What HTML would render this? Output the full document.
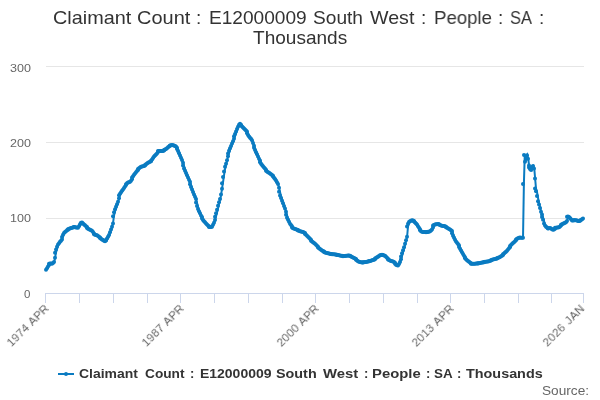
<!DOCTYPE html>
<html lang="en"><head><meta charset="utf-8"><title>Claimant Count : E12000009 South West : People : SA : Thousands</title>
<style>html,body{margin:0;padding:0;background:#fff}body{width:600px;height:400px;position:relative;overflow:hidden;font-family:"Liberation Sans", sans-serif}svg{position:absolute;left:0;top:0}div,span{will-change:transform}.ln{position:absolute;left:0;width:600px;height:0}.w{position:absolute;top:0;white-space:nowrap;transform-origin:0 0}.w1{font-size:19px;line-height:25px;height:25px;color:#333}.w2{font-size:11.5px;line-height:15px;height:15px;color:#666}.w3{font-size:13px;line-height:17px;height:17px;color:#333;font-weight:bold}.w4{font-size:12.6px;line-height:16px;height:16px;color:#666}</style></head><body>
<svg width="600" height="400" viewBox="0 0 600 400">
<rect width="600" height="400" fill="#fff"/>
<path d="M46 66.5H584M46 142.5H584M46 218.5H584" stroke="#e6e6e6" stroke-width="1" fill="none"/>
<path d="M45 293.5H584M45.5 293V303M79.5 293V303M113.5 293V303M147.5 293V303M180.5 293V303M214.5 293V303M248.5 293V303M282.5 293V303M315.5 293V303M349.5 293V303M383.5 293V303M417.5 293V303M450.5 293V303M484.5 293V303M518.5 293V303M551.5 293V303M583.5 293V303" stroke="#ccd6eb" stroke-width="1" fill="none"/>
<path d="M46.43 269.75 L47.30 268.16 L48.16 266.43 L49.03 264.89 L49.89 263.77 L50.76 263.40 L51.62 263.57 L52.49 263.75 L53.35 263.04 L54.22 261.96 L55.08 257.63 L55.95 252.82 L56.81 249.51 L57.68 246.76 L58.54 244.44 L59.41 243.14 L60.27 241.84 L61.14 240.68 L62.00 239.53 L62.87 236.97 L63.73 234.67 L64.60 232.90 L65.46 232.04 L66.33 231.17 L67.19 230.31 L68.06 229.72 L68.92 229.29 L69.79 228.86 L70.65 228.44 L71.52 228.09 L72.38 227.75 L73.25 227.40 L74.11 227.06 L74.98 227.12 L75.84 227.27 L76.71 227.41 L77.57 227.55 L78.44 227.70 L79.30 226.37 L80.17 224.21 L81.03 223.38 L81.90 222.68 L82.76 222.49 L83.63 223.44 L84.49 224.39 L85.36 225.34 L86.22 226.22 L87.09 227.09 L87.95 227.95 L88.82 228.69 L89.68 229.21 L90.55 229.73 L91.41 230.25 L92.27 230.79 L93.14 232.11 L94.00 233.44 L94.87 234.33 L95.73 234.63 L96.60 234.93 L97.46 235.24 L98.33 235.94 L99.19 236.66 L100.06 237.38 L100.92 238.10 L101.79 238.82 L102.65 239.45 L103.52 240.04 L104.38 240.63 L105.25 241.22 L106.11 240.62 L106.98 239.96 L107.84 238.56 L108.71 236.83 L109.57 235.02 L110.44 232.30 L111.30 229.59 L112.17 226.63 L113.03 223.42 L113.90 216.18 L114.76 212.33 L115.63 209.37 L116.49 206.85 L117.36 204.32 L118.22 201.73 L119.09 198.20 L119.95 195.26 L120.82 193.72 L121.68 192.21 L122.55 190.87 L123.41 189.52 L124.28 188.06 L125.14 186.52 L126.01 184.99 L126.87 184.13 L127.74 183.26 L128.60 182.57 L129.47 182.14 L130.33 181.71 L131.20 180.70 L132.06 179.16 L132.93 177.62 L133.79 176.15 L134.66 174.81 L135.52 173.47 L136.39 172.14 L137.25 171.00 L138.12 170.04 L138.98 169.08 L139.85 168.20 L140.71 167.44 L141.58 166.73 L142.44 166.51 L143.31 166.30 L144.17 166.08 L145.04 165.57 L145.90 164.88 L146.77 164.19 L147.63 163.49 L148.50 162.85 L149.36 162.33 L150.23 161.81 L151.09 161.30 L151.96 160.78 L152.82 159.38 L153.69 157.94 L154.55 156.62 L155.42 155.54 L156.28 154.46 L157.15 153.38 L158.01 152.11 L158.88 151.00 L159.74 151.00 L160.61 151.00 L161.47 151.00 L162.34 151.00 L163.20 151.00 L164.07 150.51 L164.93 149.99 L165.80 149.47 L166.66 148.95 L167.53 148.22 L168.39 147.36 L169.26 146.49 L170.12 145.72 L170.99 145.50 L171.85 145.29 L172.72 145.07 L173.58 145.23 L174.45 145.58 L175.31 145.92 L176.18 146.46 L177.04 147.73 L177.91 148.99 L178.77 150.89 L179.64 153.19 L180.50 155.50 L181.36 157.81 L182.23 160.11 L183.09 162.65 L183.96 165.53 L184.82 168.42 L185.69 170.78 L186.55 173.02 L187.42 175.25 L188.28 177.44 L189.15 179.63 L190.01 181.82 L190.88 184.26 L191.74 186.88 L192.61 189.51 L193.47 192.02 L194.34 194.39 L195.20 196.75 L196.07 199.12 L196.93 202.43 L197.80 206.09 L198.66 209.03 L199.53 211.20 L200.39 213.36 L201.26 215.52 L202.12 217.03 L202.99 218.54 L203.85 220.06 L204.72 221.31 L205.58 222.35 L206.45 223.39 L207.31 224.43 L208.18 225.40 L209.04 226.15 L209.91 226.90 L210.77 227.10 L211.64 226.92 L212.50 226.74 L213.37 224.72 L214.23 222.71 L215.10 220.11 L215.96 216.65 L216.83 213.19 L217.69 209.73 L218.56 205.86 L219.42 202.15 L220.29 199.12 L221.15 194.62 L222.02 188.64 L222.88 183.23 L223.75 177.06 L224.61 171.38 L225.48 166.70 L226.34 163.68 L227.21 160.19 L228.07 156.30 L228.94 153.44 L229.80 150.84 L230.67 148.29 L231.53 145.93 L232.40 143.57 L233.26 141.19 L234.13 138.76 L234.99 136.34 L235.86 133.92 L236.72 131.50 L237.59 129.10 L238.45 126.82 L239.32 124.84 L240.18 123.78 L241.05 124.65 L241.91 125.51 L242.78 126.44 L243.64 127.41 L244.51 128.38 L245.37 129.44 L246.24 130.52 L247.10 131.60 L247.97 133.33 L248.83 135.06 L249.70 136.39 L250.56 137.69 L251.43 138.73 L252.29 140.14 L253.16 143.02 L254.02 145.68 L254.89 147.84 L255.75 150.00 L256.62 152.16 L257.48 154.33 L258.35 156.49 L259.21 158.65 L260.08 160.61 L260.94 162.22 L261.81 163.84 L262.67 165.11 L263.54 166.29 L264.40 167.46 L265.27 168.58 L266.13 169.69 L267.00 170.79 L267.86 171.49 L268.73 172.18 L269.59 172.87 L270.45 173.56 L271.32 174.26 L272.18 174.95 L273.05 175.64 L273.91 176.44 L274.78 177.71 L275.64 178.98 L276.51 180.52 L277.37 182.25 L278.24 183.98 L279.10 187.66 L279.97 191.85 L280.83 195.50 L281.70 198.10 L282.56 200.69 L283.43 203.29 L284.29 205.88 L285.16 208.59 L286.02 211.80 L286.89 214.82 L287.75 217.63 L288.62 219.66 L289.48 221.70 L290.35 223.65 L291.21 224.95 L292.08 226.24 L292.94 227.54 L293.81 228.22 L294.67 228.57 L295.54 228.92 L296.40 229.26 L297.27 229.63 L298.13 230.04 L299.00 230.46 L299.86 230.87 L300.73 231.29 L301.59 231.57 L302.46 231.85 L303.32 232.12 L304.19 232.40 L305.05 233.05 L305.92 233.92 L306.78 234.78 L307.65 235.68 L308.51 236.72 L309.38 237.75 L310.24 238.79 L311.11 239.83 L311.97 240.64 L312.84 241.40 L313.70 242.16 L314.57 242.92 L315.43 243.78 L316.30 244.75 L317.16 245.72 L318.03 246.69 L318.89 247.61 L319.76 248.31 L320.62 249.00 L321.49 249.69 L322.35 250.38 L323.22 250.93 L324.08 251.45 L324.95 251.97 L325.81 252.40 L326.68 252.67 L327.54 252.94 L328.41 253.21 L329.27 253.49 L330.14 253.76 L331.00 253.98 L331.87 254.08 L332.73 254.18 L333.60 254.28 L334.46 254.37 L335.33 254.47 L336.19 254.59 L337.06 254.76 L337.92 254.93 L338.79 255.11 L339.65 255.28 L340.52 255.45 L341.38 255.63 L342.25 255.80 L343.11 255.97 L343.98 256.15 L344.84 256.12 L345.71 255.99 L346.57 255.87 L347.44 255.74 L348.30 255.62 L349.17 255.50 L350.03 255.70 L350.90 256.12 L351.76 256.54 L352.63 256.95 L353.49 257.39 L354.36 257.89 L355.22 258.40 L356.09 258.90 L356.95 259.66 L357.82 260.48 L358.68 261.30 L359.55 261.75 L360.41 261.99 L361.27 262.23 L362.14 262.47 L363.00 262.40 L363.87 262.28 L364.73 262.17 L365.60 262.05 L366.46 261.94 L367.33 261.76 L368.19 261.55 L369.06 261.35 L369.92 261.14 L370.79 260.91 L371.65 260.63 L372.52 260.35 L373.38 260.08 L374.25 259.80 L375.11 259.20 L375.98 258.59 L376.84 257.98 L377.71 257.33 L378.57 256.64 L379.44 255.95 L380.30 255.29 L381.17 255.08 L382.03 254.88 L382.90 254.74 L383.76 255.07 L384.63 255.41 L385.49 255.75 L386.36 256.74 L387.22 257.73 L388.09 258.73 L388.95 259.47 L389.82 259.99 L390.68 260.51 L391.55 261.02 L392.41 261.32 L393.28 261.62 L394.14 261.93 L395.01 262.66 L395.87 263.70 L396.74 264.74 L397.60 265.35 L398.47 265.43 L399.33 263.96 L400.20 261.91 L401.06 259.31 L401.93 256.38 L402.79 253.35 L403.66 250.32 L404.52 247.16 L405.39 243.70 L406.25 240.30 L407.12 236.68 L407.98 226.59 L408.85 223.80 L409.71 221.89 L410.58 221.21 L411.44 220.67 L412.31 220.24 L413.17 220.60 L414.04 220.96 L414.90 221.43 L415.77 222.45 L416.63 223.46 L417.50 224.62 L418.36 226.24 L419.23 227.86 L420.09 229.21 L420.96 230.23 L421.82 231.25 L422.69 231.80 L423.55 231.91 L424.42 232.01 L425.28 232.11 L426.15 232.18 L427.01 232.08 L427.88 231.97 L428.74 231.87 L429.61 231.77 L430.47 231.13 L431.34 230.38 L432.20 229.38 L433.07 227.57 L433.93 225.59 L434.80 224.92 L435.66 224.58 L436.53 224.25 L437.39 224.15 L438.26 224.05 L439.12 224.19 L439.99 224.62 L440.85 225.05 L441.72 225.48 L442.58 225.70 L443.45 225.91 L444.31 226.11 L445.18 226.32 L446.04 226.74 L446.91 227.28 L447.77 227.82 L448.64 228.36 L449.50 228.94 L450.36 229.59 L451.23 230.23 L452.09 230.88 L452.96 233.13 L453.82 235.67 L454.69 237.69 L455.55 239.71 L456.42 241.38 L457.28 242.68 L458.15 243.97 L459.01 245.28 L459.88 247.01 L460.74 248.74 L461.61 250.47 L462.47 252.20 L463.34 253.93 L464.20 255.66 L465.07 257.32 L465.93 258.26 L466.80 259.19 L467.66 260.13 L468.53 261.06 L469.39 261.82 L470.26 262.51 L471.12 263.20 L471.99 263.70 L472.85 263.70 L473.72 263.70 L474.58 263.70 L475.45 263.70 L476.31 263.62 L477.18 263.53 L478.04 263.45 L478.91 263.36 L479.77 263.27 L480.64 263.08 L481.50 262.85 L482.37 262.62 L483.23 262.39 L484.10 262.16 L484.96 261.97 L485.83 261.83 L486.69 261.68 L487.56 261.54 L488.42 261.40 L489.29 261.18 L490.15 260.84 L491.02 260.49 L491.88 260.15 L492.75 259.80 L493.61 259.56 L494.48 259.32 L495.34 259.07 L496.21 258.83 L497.07 258.52 L497.94 258.18 L498.80 257.83 L499.67 257.48 L500.53 257.02 L501.40 256.33 L502.26 255.64 L503.13 254.95 L503.99 254.26 L504.86 253.39 L505.72 252.53 L506.59 251.66 L507.45 250.65 L508.32 249.49 L509.18 248.34 L510.05 247.19 L510.91 246.03 L511.78 244.95 L512.64 244.01 L513.51 243.08 L514.37 242.14 L515.24 241.24 L516.10 240.35 L516.97 239.45 L517.83 238.71 L518.70 238.23 L519.56 237.75 L520.43 237.55 L521.29 237.65 L522.16 237.76 L523.02 237.86 L523.89 184.00 L524.75 155.00 L525.62 161.80 L526.48 157.60 L527.35 155.30 L528.21 158.80 L529.08 165.50 L529.94 167.50 L530.81 169.00 L531.67 170.00 L532.54 167.00 L533.40 166.00 L534.27 168.40 L535.13 178.50 L536.00 188.50 L536.86 191.25 L537.73 195.97 L538.59 201.19 L539.45 204.48 L540.32 207.96 L541.18 211.73 L542.05 214.47 L542.91 216.98 L543.78 219.77 L544.64 223.60 L545.51 225.51 L546.37 226.81 L547.24 227.55 L548.10 228.20 L548.97 228.41 L549.83 228.23 L550.70 228.06 L551.56 228.45 L552.43 229.14 L553.29 229.84 L554.16 229.45 L555.02 228.69 L555.89 227.86 L556.75 227.69 L557.62 227.62 L558.48 227.54 L559.35 227.26 L560.21 226.53 L561.08 225.43 L561.94 224.67 L562.81 224.22 L563.67 223.77 L564.54 223.30 L565.40 222.81 L566.27 222.33 L567.13 220.98 L568.00 216.76 L568.86 216.50 L569.73 216.90 L570.59 217.89 L571.46 219.20 L572.32 220.50 L573.19 220.40 L574.05 220.31 L574.92 220.21 L575.78 220.28 L576.65 220.36 L577.51 220.61 L578.38 220.95 L579.24 221.12 L580.11 220.81 L580.97 220.51 L581.84 219.89 L582.70 219.23 L583.57 218.50" stroke="#0a7bc1" stroke-width="2" fill="none" stroke-linejoin="miter" stroke-linecap="butt"/>
<g fill="#0a7bc1"><circle cx="46" cy="269.75" r="2"/><circle cx="47" cy="268.16" r="2"/><circle cx="48" cy="266.43" r="2"/><circle cx="49" cy="264.89" r="2"/><circle cx="49" cy="263.77" r="2"/><circle cx="50" cy="263.40" r="2"/><circle cx="51" cy="263.57" r="2"/><circle cx="52" cy="263.75" r="2"/><circle cx="53" cy="263.04" r="2"/><circle cx="54" cy="261.96" r="2"/><circle cx="55" cy="257.63" r="2"/><circle cx="55" cy="252.82" r="2"/><circle cx="56" cy="249.51" r="2"/><circle cx="57" cy="246.76" r="2"/><circle cx="58" cy="244.44" r="2"/><circle cx="59" cy="243.14" r="2"/><circle cx="60" cy="241.84" r="2"/><circle cx="61" cy="240.68" r="2"/><circle cx="62" cy="239.53" r="2"/><circle cx="62" cy="236.97" r="2"/><circle cx="63" cy="234.67" r="2"/><circle cx="64" cy="232.90" r="2"/><circle cx="65" cy="232.04" r="2"/><circle cx="66" cy="231.17" r="2"/><circle cx="67" cy="230.31" r="2"/><circle cx="68" cy="229.72" r="2"/><circle cx="68" cy="229.29" r="2"/><circle cx="69" cy="228.86" r="2"/><circle cx="70" cy="228.44" r="2"/><circle cx="71" cy="228.09" r="2"/><circle cx="72" cy="227.75" r="2"/><circle cx="73" cy="227.40" r="2"/><circle cx="74" cy="227.06" r="2"/><circle cx="74" cy="227.12" r="2"/><circle cx="75" cy="227.27" r="2"/><circle cx="76" cy="227.41" r="2"/><circle cx="77" cy="227.55" r="2"/><circle cx="78" cy="227.70" r="2"/><circle cx="79" cy="226.37" r="2"/><circle cx="80" cy="224.21" r="2"/><circle cx="81" cy="223.38" r="2"/><circle cx="81" cy="222.68" r="2"/><circle cx="82" cy="222.49" r="2"/><circle cx="83" cy="223.44" r="2"/><circle cx="84" cy="224.39" r="2"/><circle cx="85" cy="225.34" r="2"/><circle cx="86" cy="226.22" r="2"/><circle cx="87" cy="227.09" r="2"/><circle cx="87" cy="227.95" r="2"/><circle cx="88" cy="228.69" r="2"/><circle cx="89" cy="229.21" r="2"/><circle cx="90" cy="229.73" r="2"/><circle cx="91" cy="230.25" r="2"/><circle cx="92" cy="230.79" r="2"/><circle cx="93" cy="232.11" r="2"/><circle cx="94" cy="233.44" r="2"/><circle cx="94" cy="234.33" r="2"/><circle cx="95" cy="234.63" r="2"/><circle cx="96" cy="234.93" r="2"/><circle cx="97" cy="235.24" r="2"/><circle cx="98" cy="235.94" r="2"/><circle cx="99" cy="236.66" r="2"/><circle cx="100" cy="237.38" r="2"/><circle cx="100" cy="238.10" r="2"/><circle cx="101" cy="238.82" r="2"/><circle cx="102" cy="239.45" r="2"/><circle cx="103" cy="240.04" r="2"/><circle cx="104" cy="240.63" r="2"/><circle cx="105" cy="241.22" r="2"/><circle cx="106" cy="240.62" r="2"/><circle cx="106" cy="239.96" r="2"/><circle cx="107" cy="238.56" r="2"/><circle cx="108" cy="236.83" r="2"/><circle cx="109" cy="235.02" r="2"/><circle cx="110" cy="232.30" r="2"/><circle cx="111" cy="229.59" r="2"/><circle cx="112" cy="226.63" r="2"/><circle cx="113" cy="223.42" r="2"/><circle cx="113" cy="216.18" r="2"/><circle cx="114" cy="212.33" r="2"/><circle cx="115" cy="209.37" r="2"/><circle cx="116" cy="206.85" r="2"/><circle cx="117" cy="204.32" r="2"/><circle cx="118" cy="201.73" r="2"/><circle cx="119" cy="198.20" r="2"/><circle cx="119" cy="195.26" r="2"/><circle cx="120" cy="193.72" r="2"/><circle cx="121" cy="192.21" r="2"/><circle cx="122" cy="190.87" r="2"/><circle cx="123" cy="189.52" r="2"/><circle cx="124" cy="188.06" r="2"/><circle cx="125" cy="186.52" r="2"/><circle cx="126" cy="184.99" r="2"/><circle cx="126" cy="184.13" r="2"/><circle cx="127" cy="183.26" r="2"/><circle cx="128" cy="182.57" r="2"/><circle cx="129" cy="182.14" r="2"/><circle cx="130" cy="181.71" r="2"/><circle cx="131" cy="180.70" r="2"/><circle cx="132" cy="179.16" r="2"/><circle cx="132" cy="177.62" r="2"/><circle cx="133" cy="176.15" r="2"/><circle cx="134" cy="174.81" r="2"/><circle cx="135" cy="173.47" r="2"/><circle cx="136" cy="172.14" r="2"/><circle cx="137" cy="171.00" r="2"/><circle cx="138" cy="170.04" r="2"/><circle cx="138" cy="169.08" r="2"/><circle cx="139" cy="168.20" r="2"/><circle cx="140" cy="167.44" r="2"/><circle cx="141" cy="166.73" r="2"/><circle cx="142" cy="166.51" r="2"/><circle cx="143" cy="166.30" r="2"/><circle cx="144" cy="166.08" r="2"/><circle cx="145" cy="165.57" r="2"/><circle cx="145" cy="164.88" r="2"/><circle cx="146" cy="164.19" r="2"/><circle cx="147" cy="163.49" r="2"/><circle cx="148" cy="162.85" r="2"/><circle cx="149" cy="162.33" r="2"/><circle cx="150" cy="161.81" r="2"/><circle cx="151" cy="161.30" r="2"/><circle cx="151" cy="160.78" r="2"/><circle cx="152" cy="159.38" r="2"/><circle cx="153" cy="157.94" r="2"/><circle cx="154" cy="156.62" r="2"/><circle cx="155" cy="155.54" r="2"/><circle cx="156" cy="154.46" r="2"/><circle cx="157" cy="153.38" r="2"/><circle cx="158" cy="152.11" r="2"/><circle cx="158" cy="151.00" r="2"/><circle cx="159" cy="151.00" r="2"/><circle cx="160" cy="151.00" r="2"/><circle cx="161" cy="151.00" r="2"/><circle cx="162" cy="151.00" r="2"/><circle cx="163" cy="151.00" r="2"/><circle cx="164" cy="150.51" r="2"/><circle cx="164" cy="149.99" r="2"/><circle cx="165" cy="149.47" r="2"/><circle cx="166" cy="148.95" r="2"/><circle cx="167" cy="148.22" r="2"/><circle cx="168" cy="147.36" r="2"/><circle cx="169" cy="146.49" r="2"/><circle cx="170" cy="145.72" r="2"/><circle cx="170" cy="145.50" r="2"/><circle cx="171" cy="145.29" r="2"/><circle cx="172" cy="145.07" r="2"/><circle cx="173" cy="145.23" r="2"/><circle cx="174" cy="145.58" r="2"/><circle cx="175" cy="145.92" r="2"/><circle cx="176" cy="146.46" r="2"/><circle cx="177" cy="147.73" r="2"/><circle cx="177" cy="148.99" r="2"/><circle cx="178" cy="150.89" r="2"/><circle cx="179" cy="153.19" r="2"/><circle cx="180" cy="155.50" r="2"/><circle cx="181" cy="157.81" r="2"/><circle cx="182" cy="160.11" r="2"/><circle cx="183" cy="162.65" r="2"/><circle cx="183" cy="165.53" r="2"/><circle cx="184" cy="168.42" r="2"/><circle cx="185" cy="170.78" r="2"/><circle cx="186" cy="173.02" r="2"/><circle cx="187" cy="175.25" r="2"/><circle cx="188" cy="177.44" r="2"/><circle cx="189" cy="179.63" r="2"/><circle cx="190" cy="181.82" r="2"/><circle cx="190" cy="184.26" r="2"/><circle cx="191" cy="186.88" r="2"/><circle cx="192" cy="189.51" r="2"/><circle cx="193" cy="192.02" r="2"/><circle cx="194" cy="194.39" r="2"/><circle cx="195" cy="196.75" r="2"/><circle cx="196" cy="199.12" r="2"/><circle cx="196" cy="202.43" r="2"/><circle cx="197" cy="206.09" r="2"/><circle cx="198" cy="209.03" r="2"/><circle cx="199" cy="211.20" r="2"/><circle cx="200" cy="213.36" r="2"/><circle cx="201" cy="215.52" r="2"/><circle cx="202" cy="217.03" r="2"/><circle cx="202" cy="218.54" r="2"/><circle cx="203" cy="220.06" r="2"/><circle cx="204" cy="221.31" r="2"/><circle cx="205" cy="222.35" r="2"/><circle cx="206" cy="223.39" r="2"/><circle cx="207" cy="224.43" r="2"/><circle cx="208" cy="225.40" r="2"/><circle cx="209" cy="226.15" r="2"/><circle cx="209" cy="226.90" r="2"/><circle cx="210" cy="227.10" r="2"/><circle cx="211" cy="226.92" r="2"/><circle cx="212" cy="226.74" r="2"/><circle cx="213" cy="224.72" r="2"/><circle cx="214" cy="222.71" r="2"/><circle cx="215" cy="220.11" r="2"/><circle cx="215" cy="216.65" r="2"/><circle cx="216" cy="213.19" r="2"/><circle cx="217" cy="209.73" r="2"/><circle cx="218" cy="205.86" r="2"/><circle cx="219" cy="202.15" r="2"/><circle cx="220" cy="199.12" r="2"/><circle cx="221" cy="194.62" r="2"/><circle cx="222" cy="188.64" r="2"/><circle cx="222" cy="183.23" r="2"/><circle cx="223" cy="177.06" r="2"/><circle cx="224" cy="171.38" r="2"/><circle cx="225" cy="166.70" r="2"/><circle cx="226" cy="163.68" r="2"/><circle cx="227" cy="160.19" r="2"/><circle cx="228" cy="156.30" r="2"/><circle cx="228" cy="153.44" r="2"/><circle cx="229" cy="150.84" r="2"/><circle cx="230" cy="148.29" r="2"/><circle cx="231" cy="145.93" r="2"/><circle cx="232" cy="143.57" r="2"/><circle cx="233" cy="141.19" r="2"/><circle cx="234" cy="138.76" r="2"/><circle cx="234" cy="136.34" r="2"/><circle cx="235" cy="133.92" r="2"/><circle cx="236" cy="131.50" r="2"/><circle cx="237" cy="129.10" r="2"/><circle cx="238" cy="126.82" r="2"/><circle cx="239" cy="124.84" r="2"/><circle cx="240" cy="123.78" r="2"/><circle cx="241" cy="124.65" r="2"/><circle cx="241" cy="125.51" r="2"/><circle cx="242" cy="126.44" r="2"/><circle cx="243" cy="127.41" r="2"/><circle cx="244" cy="128.38" r="2"/><circle cx="245" cy="129.44" r="2"/><circle cx="246" cy="130.52" r="2"/><circle cx="247" cy="131.60" r="2"/><circle cx="247" cy="133.33" r="2"/><circle cx="248" cy="135.06" r="2"/><circle cx="249" cy="136.39" r="2"/><circle cx="250" cy="137.69" r="2"/><circle cx="251" cy="138.73" r="2"/><circle cx="252" cy="140.14" r="2"/><circle cx="253" cy="143.02" r="2"/><circle cx="254" cy="145.68" r="2"/><circle cx="254" cy="147.84" r="2"/><circle cx="255" cy="150.00" r="2"/><circle cx="256" cy="152.16" r="2"/><circle cx="257" cy="154.33" r="2"/><circle cx="258" cy="156.49" r="2"/><circle cx="259" cy="158.65" r="2"/><circle cx="260" cy="160.61" r="2"/><circle cx="260" cy="162.22" r="2"/><circle cx="261" cy="163.84" r="2"/><circle cx="262" cy="165.11" r="2"/><circle cx="263" cy="166.29" r="2"/><circle cx="264" cy="167.46" r="2"/><circle cx="265" cy="168.58" r="2"/><circle cx="266" cy="169.69" r="2"/><circle cx="266" cy="170.79" r="2"/><circle cx="267" cy="171.49" r="2"/><circle cx="268" cy="172.18" r="2"/><circle cx="269" cy="172.87" r="2"/><circle cx="270" cy="173.56" r="2"/><circle cx="271" cy="174.26" r="2"/><circle cx="272" cy="174.95" r="2"/><circle cx="273" cy="175.64" r="2"/><circle cx="273" cy="176.44" r="2"/><circle cx="274" cy="177.71" r="2"/><circle cx="275" cy="178.98" r="2"/><circle cx="276" cy="180.52" r="2"/><circle cx="277" cy="182.25" r="2"/><circle cx="278" cy="183.98" r="2"/><circle cx="279" cy="187.66" r="2"/><circle cx="279" cy="191.85" r="2"/><circle cx="280" cy="195.50" r="2"/><circle cx="281" cy="198.10" r="2"/><circle cx="282" cy="200.69" r="2"/><circle cx="283" cy="203.29" r="2"/><circle cx="284" cy="205.88" r="2"/><circle cx="285" cy="208.59" r="2"/><circle cx="286" cy="211.80" r="2"/><circle cx="286" cy="214.82" r="2"/><circle cx="287" cy="217.63" r="2"/><circle cx="288" cy="219.66" r="2"/><circle cx="289" cy="221.70" r="2"/><circle cx="290" cy="223.65" r="2"/><circle cx="291" cy="224.95" r="2"/><circle cx="292" cy="226.24" r="2"/><circle cx="292" cy="227.54" r="2"/><circle cx="293" cy="228.22" r="2"/><circle cx="294" cy="228.57" r="2"/><circle cx="295" cy="228.92" r="2"/><circle cx="296" cy="229.26" r="2"/><circle cx="297" cy="229.63" r="2"/><circle cx="298" cy="230.04" r="2"/><circle cx="298" cy="230.46" r="2"/><circle cx="299" cy="230.87" r="2"/><circle cx="300" cy="231.29" r="2"/><circle cx="301" cy="231.57" r="2"/><circle cx="302" cy="231.85" r="2"/><circle cx="303" cy="232.12" r="2"/><circle cx="304" cy="232.40" r="2"/><circle cx="305" cy="233.05" r="2"/><circle cx="305" cy="233.92" r="2"/><circle cx="306" cy="234.78" r="2"/><circle cx="307" cy="235.68" r="2"/><circle cx="308" cy="236.72" r="2"/><circle cx="309" cy="237.75" r="2"/><circle cx="310" cy="238.79" r="2"/><circle cx="311" cy="239.83" r="2"/><circle cx="311" cy="240.64" r="2"/><circle cx="312" cy="241.40" r="2"/><circle cx="313" cy="242.16" r="2"/><circle cx="314" cy="242.92" r="2"/><circle cx="315" cy="243.78" r="2"/><circle cx="316" cy="244.75" r="2"/><circle cx="317" cy="245.72" r="2"/><circle cx="318" cy="246.69" r="2"/><circle cx="318" cy="247.61" r="2"/><circle cx="319" cy="248.31" r="2"/><circle cx="320" cy="249.00" r="2"/><circle cx="321" cy="249.69" r="2"/><circle cx="322" cy="250.38" r="2"/><circle cx="323" cy="250.93" r="2"/><circle cx="324" cy="251.45" r="2"/><circle cx="324" cy="251.97" r="2"/><circle cx="325" cy="252.40" r="2"/><circle cx="326" cy="252.67" r="2"/><circle cx="327" cy="252.94" r="2"/><circle cx="328" cy="253.21" r="2"/><circle cx="329" cy="253.49" r="2"/><circle cx="330" cy="253.76" r="2"/><circle cx="331" cy="253.98" r="2"/><circle cx="331" cy="254.08" r="2"/><circle cx="332" cy="254.18" r="2"/><circle cx="333" cy="254.28" r="2"/><circle cx="334" cy="254.37" r="2"/><circle cx="335" cy="254.47" r="2"/><circle cx="336" cy="254.59" r="2"/><circle cx="337" cy="254.76" r="2"/><circle cx="337" cy="254.93" r="2"/><circle cx="338" cy="255.11" r="2"/><circle cx="339" cy="255.28" r="2"/><circle cx="340" cy="255.45" r="2"/><circle cx="341" cy="255.63" r="2"/><circle cx="342" cy="255.80" r="2"/><circle cx="343" cy="255.97" r="2"/><circle cx="343" cy="256.15" r="2"/><circle cx="344" cy="256.12" r="2"/><circle cx="345" cy="255.99" r="2"/><circle cx="346" cy="255.87" r="2"/><circle cx="347" cy="255.74" r="2"/><circle cx="348" cy="255.62" r="2"/><circle cx="349" cy="255.50" r="2"/><circle cx="350" cy="255.70" r="2"/><circle cx="350" cy="256.12" r="2"/><circle cx="351" cy="256.54" r="2"/><circle cx="352" cy="256.95" r="2"/><circle cx="353" cy="257.39" r="2"/><circle cx="354" cy="257.89" r="2"/><circle cx="355" cy="258.40" r="2"/><circle cx="356" cy="258.90" r="2"/><circle cx="356" cy="259.66" r="2"/><circle cx="357" cy="260.48" r="2"/><circle cx="358" cy="261.30" r="2"/><circle cx="359" cy="261.75" r="2"/><circle cx="360" cy="261.99" r="2"/><circle cx="361" cy="262.23" r="2"/><circle cx="362" cy="262.47" r="2"/><circle cx="363" cy="262.40" r="2"/><circle cx="363" cy="262.28" r="2"/><circle cx="364" cy="262.17" r="2"/><circle cx="365" cy="262.05" r="2"/><circle cx="366" cy="261.94" r="2"/><circle cx="367" cy="261.76" r="2"/><circle cx="368" cy="261.55" r="2"/><circle cx="369" cy="261.35" r="2"/><circle cx="369" cy="261.14" r="2"/><circle cx="370" cy="260.91" r="2"/><circle cx="371" cy="260.63" r="2"/><circle cx="372" cy="260.35" r="2"/><circle cx="373" cy="260.08" r="2"/><circle cx="374" cy="259.80" r="2"/><circle cx="375" cy="259.20" r="2"/><circle cx="375" cy="258.59" r="2"/><circle cx="376" cy="257.98" r="2"/><circle cx="377" cy="257.33" r="2"/><circle cx="378" cy="256.64" r="2"/><circle cx="379" cy="255.95" r="2"/><circle cx="380" cy="255.29" r="2"/><circle cx="381" cy="255.08" r="2"/><circle cx="382" cy="254.88" r="2"/><circle cx="382" cy="254.74" r="2"/><circle cx="383" cy="255.07" r="2"/><circle cx="384" cy="255.41" r="2"/><circle cx="385" cy="255.75" r="2"/><circle cx="386" cy="256.74" r="2"/><circle cx="387" cy="257.73" r="2"/><circle cx="388" cy="258.73" r="2"/><circle cx="388" cy="259.47" r="2"/><circle cx="389" cy="259.99" r="2"/><circle cx="390" cy="260.51" r="2"/><circle cx="391" cy="261.02" r="2"/><circle cx="392" cy="261.32" r="2"/><circle cx="393" cy="261.62" r="2"/><circle cx="394" cy="261.93" r="2"/><circle cx="395" cy="262.66" r="2"/><circle cx="395" cy="263.70" r="2"/><circle cx="396" cy="264.74" r="2"/><circle cx="397" cy="265.35" r="2"/><circle cx="398" cy="265.43" r="2"/><circle cx="399" cy="263.96" r="2"/><circle cx="400" cy="261.91" r="2"/><circle cx="401" cy="259.31" r="2"/><circle cx="401" cy="256.38" r="2"/><circle cx="402" cy="253.35" r="2"/><circle cx="403" cy="250.32" r="2"/><circle cx="404" cy="247.16" r="2"/><circle cx="405" cy="243.70" r="2"/><circle cx="406" cy="240.30" r="2"/><circle cx="407" cy="236.68" r="2"/><circle cx="407" cy="226.59" r="2"/><circle cx="408" cy="223.80" r="2"/><circle cx="409" cy="221.89" r="2"/><circle cx="410" cy="221.21" r="2"/><circle cx="411" cy="220.67" r="2"/><circle cx="412" cy="220.24" r="2"/><circle cx="413" cy="220.60" r="2"/><circle cx="414" cy="220.96" r="2"/><circle cx="414" cy="221.43" r="2"/><circle cx="415" cy="222.45" r="2"/><circle cx="416" cy="223.46" r="2"/><circle cx="417" cy="224.62" r="2"/><circle cx="418" cy="226.24" r="2"/><circle cx="419" cy="227.86" r="2"/><circle cx="420" cy="229.21" r="2"/><circle cx="420" cy="230.23" r="2"/><circle cx="421" cy="231.25" r="2"/><circle cx="422" cy="231.80" r="2"/><circle cx="423" cy="231.91" r="2"/><circle cx="424" cy="232.01" r="2"/><circle cx="425" cy="232.11" r="2"/><circle cx="426" cy="232.18" r="2"/><circle cx="427" cy="232.08" r="2"/><circle cx="427" cy="231.97" r="2"/><circle cx="428" cy="231.87" r="2"/><circle cx="429" cy="231.77" r="2"/><circle cx="430" cy="231.13" r="2"/><circle cx="431" cy="230.38" r="2"/><circle cx="432" cy="229.38" r="2"/><circle cx="433" cy="227.57" r="2"/><circle cx="433" cy="225.59" r="2"/><circle cx="434" cy="224.92" r="2"/><circle cx="435" cy="224.58" r="2"/><circle cx="436" cy="224.25" r="2"/><circle cx="437" cy="224.15" r="2"/><circle cx="438" cy="224.05" r="2"/><circle cx="439" cy="224.19" r="2"/><circle cx="439" cy="224.62" r="2"/><circle cx="440" cy="225.05" r="2"/><circle cx="441" cy="225.48" r="2"/><circle cx="442" cy="225.70" r="2"/><circle cx="443" cy="225.91" r="2"/><circle cx="444" cy="226.11" r="2"/><circle cx="445" cy="226.32" r="2"/><circle cx="446" cy="226.74" r="2"/><circle cx="446" cy="227.28" r="2"/><circle cx="447" cy="227.82" r="2"/><circle cx="448" cy="228.36" r="2"/><circle cx="449" cy="228.94" r="2"/><circle cx="450" cy="229.59" r="2"/><circle cx="451" cy="230.23" r="2"/><circle cx="452" cy="230.88" r="2"/><circle cx="452" cy="233.13" r="2"/><circle cx="453" cy="235.67" r="2"/><circle cx="454" cy="237.69" r="2"/><circle cx="455" cy="239.71" r="2"/><circle cx="456" cy="241.38" r="2"/><circle cx="457" cy="242.68" r="2"/><circle cx="458" cy="243.97" r="2"/><circle cx="459" cy="245.28" r="2"/><circle cx="459" cy="247.01" r="2"/><circle cx="460" cy="248.74" r="2"/><circle cx="461" cy="250.47" r="2"/><circle cx="462" cy="252.20" r="2"/><circle cx="463" cy="253.93" r="2"/><circle cx="464" cy="255.66" r="2"/><circle cx="465" cy="257.32" r="2"/><circle cx="465" cy="258.26" r="2"/><circle cx="466" cy="259.19" r="2"/><circle cx="467" cy="260.13" r="2"/><circle cx="468" cy="261.06" r="2"/><circle cx="469" cy="261.82" r="2"/><circle cx="470" cy="262.51" r="2"/><circle cx="471" cy="263.20" r="2"/><circle cx="471" cy="263.70" r="2"/><circle cx="472" cy="263.70" r="2"/><circle cx="473" cy="263.70" r="2"/><circle cx="474" cy="263.70" r="2"/><circle cx="475" cy="263.70" r="2"/><circle cx="476" cy="263.62" r="2"/><circle cx="477" cy="263.53" r="2"/><circle cx="478" cy="263.45" r="2"/><circle cx="478" cy="263.36" r="2"/><circle cx="479" cy="263.27" r="2"/><circle cx="480" cy="263.08" r="2"/><circle cx="481" cy="262.85" r="2"/><circle cx="482" cy="262.62" r="2"/><circle cx="483" cy="262.39" r="2"/><circle cx="484" cy="262.16" r="2"/><circle cx="484" cy="261.97" r="2"/><circle cx="485" cy="261.83" r="2"/><circle cx="486" cy="261.68" r="2"/><circle cx="487" cy="261.54" r="2"/><circle cx="488" cy="261.40" r="2"/><circle cx="489" cy="261.18" r="2"/><circle cx="490" cy="260.84" r="2"/><circle cx="491" cy="260.49" r="2"/><circle cx="491" cy="260.15" r="2"/><circle cx="492" cy="259.80" r="2"/><circle cx="493" cy="259.56" r="2"/><circle cx="494" cy="259.32" r="2"/><circle cx="495" cy="259.07" r="2"/><circle cx="496" cy="258.83" r="2"/><circle cx="497" cy="258.52" r="2"/><circle cx="497" cy="258.18" r="2"/><circle cx="498" cy="257.83" r="2"/><circle cx="499" cy="257.48" r="2"/><circle cx="500" cy="257.02" r="2"/><circle cx="501" cy="256.33" r="2"/><circle cx="502" cy="255.64" r="2"/><circle cx="503" cy="254.95" r="2"/><circle cx="503" cy="254.26" r="2"/><circle cx="504" cy="253.39" r="2"/><circle cx="505" cy="252.53" r="2"/><circle cx="506" cy="251.66" r="2"/><circle cx="507" cy="250.65" r="2"/><circle cx="508" cy="249.49" r="2"/><circle cx="509" cy="248.34" r="2"/><circle cx="510" cy="247.19" r="2"/><circle cx="510" cy="246.03" r="2"/><circle cx="511" cy="244.95" r="2"/><circle cx="512" cy="244.01" r="2"/><circle cx="513" cy="243.08" r="2"/><circle cx="514" cy="242.14" r="2"/><circle cx="515" cy="241.24" r="2"/><circle cx="516" cy="240.35" r="2"/><circle cx="516" cy="239.45" r="2"/><circle cx="517" cy="238.71" r="2"/><circle cx="518" cy="238.23" r="2"/><circle cx="519" cy="237.75" r="2"/><circle cx="520" cy="237.55" r="2"/><circle cx="521" cy="237.65" r="2"/><circle cx="522" cy="237.76" r="2"/><circle cx="523" cy="237.86" r="2"/><circle cx="523" cy="184.00" r="2"/><circle cx="524" cy="155.00" r="2"/><circle cx="525" cy="161.80" r="2"/><circle cx="526" cy="157.60" r="2"/><circle cx="527" cy="155.30" r="2"/><circle cx="528" cy="158.80" r="2"/><circle cx="529" cy="165.50" r="2"/><circle cx="529" cy="167.50" r="2"/><circle cx="530" cy="169.00" r="2"/><circle cx="531" cy="170.00" r="2"/><circle cx="532" cy="167.00" r="2"/><circle cx="533" cy="166.00" r="2"/><circle cx="534" cy="168.40" r="2"/><circle cx="535" cy="178.50" r="2"/><circle cx="535" cy="188.50" r="2"/><circle cx="536" cy="191.25" r="2"/><circle cx="537" cy="195.97" r="2"/><circle cx="538" cy="201.19" r="2"/><circle cx="539" cy="204.48" r="2"/><circle cx="540" cy="207.96" r="2"/><circle cx="541" cy="211.73" r="2"/><circle cx="542" cy="214.47" r="2"/><circle cx="542" cy="216.98" r="2"/><circle cx="543" cy="219.77" r="2"/><circle cx="544" cy="223.60" r="2"/><circle cx="545" cy="225.51" r="2"/><circle cx="546" cy="226.81" r="2"/><circle cx="547" cy="227.55" r="2"/><circle cx="548" cy="228.20" r="2"/><circle cx="548" cy="228.41" r="2"/><circle cx="549" cy="228.23" r="2"/><circle cx="550" cy="228.06" r="2"/><circle cx="551" cy="228.45" r="2"/><circle cx="552" cy="229.14" r="2"/><circle cx="553" cy="229.84" r="2"/><circle cx="554" cy="229.45" r="2"/><circle cx="555" cy="228.69" r="2"/><circle cx="555" cy="227.86" r="2"/><circle cx="556" cy="227.69" r="2"/><circle cx="557" cy="227.62" r="2"/><circle cx="558" cy="227.54" r="2"/><circle cx="559" cy="227.26" r="2"/><circle cx="560" cy="226.53" r="2"/><circle cx="561" cy="225.43" r="2"/><circle cx="561" cy="224.67" r="2"/><circle cx="562" cy="224.22" r="2"/><circle cx="563" cy="223.77" r="2"/><circle cx="564" cy="223.30" r="2"/><circle cx="565" cy="222.81" r="2"/><circle cx="566" cy="222.33" r="2"/><circle cx="567" cy="220.98" r="2"/><circle cx="567" cy="216.76" r="2"/><circle cx="568" cy="216.50" r="2"/><circle cx="569" cy="216.90" r="2"/><circle cx="570" cy="217.89" r="2"/><circle cx="571" cy="219.20" r="2"/><circle cx="572" cy="220.50" r="2"/><circle cx="573" cy="220.40" r="2"/><circle cx="574" cy="220.31" r="2"/><circle cx="574" cy="220.21" r="2"/><circle cx="575" cy="220.28" r="2"/><circle cx="576" cy="220.36" r="2"/><circle cx="577" cy="220.61" r="2"/><circle cx="578" cy="220.95" r="2"/><circle cx="579" cy="221.12" r="2"/><circle cx="580" cy="220.81" r="2"/><circle cx="580" cy="220.51" r="2"/><circle cx="581" cy="219.89" r="2"/><circle cx="582" cy="219.23" r="2"/><circle cx="583" cy="218.50" r="2"/></g>
<path d="M58 374H74" stroke="#0a7bc1" stroke-width="2"/><circle cx="66" cy="374" r="2" fill="#0a7bc1"/>
</svg>
<div class="ln" style="top:4.92px"><span class="w w1" style="left:52.93px;transform:scaleX(1.0439);">Claimant</span> <span class="w w1" style="left:136.94px;transform:scaleX(1.0509);">Count</span> <span class="w w1" style="left:196.20px;">:</span> <span class="w w1" style="left:209.18px;transform:scaleX(1.0045);">E12000009</span> <span class="w w1" style="left:313.48px;transform:scaleX(1.0071);">South</span> <span class="w w1" style="left:370.19px;transform:scaleX(1.0330);">West</span> <span class="w w1" style="left:421.20px;">:</span> <span class="w w1" style="left:434.20px;transform:scaleX(0.9808);">People</span> <span class="w w1" style="left:498.20px;">:</span> <span class="w w1" style="left:509.82px;transform:scaleX(0.8629);">SA</span> <span class="w w1" style="left:539.23px;">:</span></div>
<div class="ln" style="top:25.42px"><span class="w w1" style="left:253.27px;transform:scaleX(1.0018);">Thousands</span></div>
<div class="ln" style="top:60.82px"><span class="w w2" style="left:10.04px;transform:scaleX(1.0886);">300</span></div>
<div class="ln" style="top:135.82px"><span class="w w2" style="left:10.04px;transform:scaleX(1.0886);">200</span></div>
<div class="ln" style="top:210.82px"><span class="w w2" style="left:10.04px;transform:scaleX(1.0886);">100</span></div>
<div class="ln" style="top:286.82px"><span class="w w2" style="left:23.59px;">0</span></div>
<div style="position:absolute;white-space:nowrap;font-size:11.5px;line-height:15px;height:15px;color:#666;right:549.90px;top:297.72px;transform-origin:100% 11.48px;transform:rotate(-45deg);letter-spacing:0.17px;word-spacing:0.8px;">1974 APR</div>
<div style="position:absolute;white-space:nowrap;font-size:11.5px;line-height:15px;height:15px;color:#666;right:414.90px;top:297.72px;transform-origin:100% 11.48px;transform:rotate(-45deg);letter-spacing:0.17px;word-spacing:0.8px;">1987 APR</div>
<div style="position:absolute;white-space:nowrap;font-size:11.5px;line-height:15px;height:15px;color:#666;right:279.90px;top:297.72px;transform-origin:100% 11.48px;transform:rotate(-45deg);letter-spacing:0.17px;word-spacing:0.8px;">2000 APR</div>
<div style="position:absolute;white-space:nowrap;font-size:11.5px;line-height:15px;height:15px;color:#666;right:144.90px;top:297.72px;transform-origin:100% 11.48px;transform:rotate(-45deg);letter-spacing:0.17px;word-spacing:0.8px;">2013 APR</div>
<div style="position:absolute;white-space:nowrap;font-size:11.5px;line-height:15px;height:15px;color:#666;right:13.80px;top:297.92px;transform-origin:100% 11.48px;transform:rotate(-45deg);letter-spacing:0.3px;word-spacing:0.8px;">2026 JAN</div>
<div class="ln" style="top:365.00px"><span class="w w3" style="left:79.21px;transform:scaleX(1.0733);">Claimant</span> <span class="w w3" style="left:145.20px;transform:scaleX(1.0520);">Count</span> <span class="w w3" style="left:189.79px;">:</span> <span class="w w3" style="left:200.02px;transform:scaleX(1.0744);">E12000009</span> <span class="w w3" style="left:276.05px;transform:scaleX(1.1041);">South</span> <span class="w w3" style="left:323.42px;transform:scaleX(1.1417);">West</span> <span class="w w3" style="left:363.77px;">:</span> <span class="w w3" style="left:372.00px;transform:scaleX(1.1408);">People</span> <span class="w w3" style="left:425.77px;">:</span> <span class="w w3" style="left:434.00px;transform:scaleX(1.0317);">SA</span> <span class="w w3" style="left:456.89px;">:</span> <span class="w w3" style="left:466.44px;transform:scaleX(1.1060);">Thousands</span></div>
<div class="ln" style="top:382.63px"><span class="w w4" style="left:542.06px;transform:scaleX(1.0850);">Source:</span></div>
</body></html>
